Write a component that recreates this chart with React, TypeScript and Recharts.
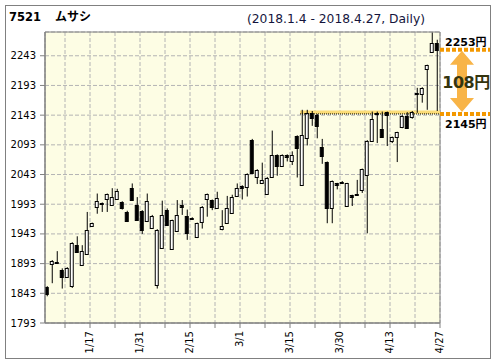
import React from 'react'
import { ComposedChart, Bar, XAxis, YAxis, CartesianGrid, ReferenceArea, ReferenceLine } from 'recharts'

const dates = [
  '1/4', '1/5', '1/9', '1/10', '1/11', '1/12', '1/15', '1/16', '1/17', '1/18',
  '1/19', '1/22', '1/23', '1/24', '1/25', '1/26', '1/29', '1/30', '1/31', '2/1',
  '2/2', '2/5', '2/6', '2/7', '2/8', '2/9', '2/13', '2/14', '2/15', '2/16',
  '2/19', '2/20', '2/21', '2/22', '2/23', '2/26', '2/27', '2/28', '3/1', '3/2',
  '3/5', '3/6', '3/7', '3/8', '3/9', '3/12', '3/13', '3/14', '3/15', '3/16',
  '3/19', '3/20', '3/22', '3/23', '3/26', '3/27', '3/28', '3/29', '3/30', '4/2',
  '4/3', '4/4', '4/5', '4/6', '4/9', '4/10', '4/11', '4/12', '4/13', '4/16',
  '4/17', '4/18', '4/19', '4/20', '4/23', '4/24', '4/25', '4/26', '4/27',
]

const opens = [
  1853, 1893, 1896, 1883, 1870, 1855, 1924, 1890, 1910, 1957,
  1989, 1995, 2002, 1992, 2002, 1997, 1980, 2020, 1991, 1981,
  1964, 1953, 1857, 1920, 1984, 1917, 1948, 1992, 1973, 1970,
  1937, 1963, 2001, 2000, 1986, 1952, 1962, 1979, 2007, 2024,
  2022, 2101, 2039, 2028, 2011, 2039, 2076, 2058, 2076, 2066,
  2108, 2025, 2104, 2146, 2144, 2089, 2064, 1986, 2028, 2031,
  1990, 2008, 2011, 2017, 2042, 2100, 2147, 2119, 2148, 2100,
  2107, 2123, 2142, 2140, 2181, 2179, 2220, 2250, 2265,
]

const highs = [
  1855, 1899, 1914, 1885, 1887, 1929, 1939, 1924, 1980, 1962,
  2011, 1996, 2011, 2020, 2019, 1998, 1982, 2028, 2005, 1983,
  2011, 1975, 1951, 1999, 1986, 1967, 2000, 2000, 1984, 1971,
  1962, 1990, 2011, 2001, 2014, 1983, 2007, 2009, 2028, 2025,
  2045, 2103, 2052, 2063, 2039, 2117, 2077, 2077, 2077, 2082,
  2109, 2152, 2152, 2150, 2145, 2103, 2065, 2033, 2029, 2032,
  2029, 2009, 2034, 2053, 2101, 2149, 2149, 2149, 2149, 2107,
  2115, 2143, 2148, 2150, 2189, 2190, 2228, 2282, 2270,
]

const lows = [
  1838, 1860, 1893, 1851, 1869, 1852, 1912, 1889, 1909, 1956,
  1977, 1980, 1980, 1991, 2001, 1984, 1963, 1999, 1966, 1943,
  1963, 1952, 1851, 1919, 1957, 1916, 1947, 1975, 1933, 1968,
  1936, 1952, 1972, 1983, 1985, 1949, 1961, 1978, 2006, 2001,
  2006, 2044, 2027, 2027, 2010, 2038, 2041, 2057, 2065, 2059,
  2038, 2024, 2092, 2125, 2104, 2061, 1961, 1961, 2018, 2027,
  1989, 1990, 2009, 2012, 1944, 2099, 2096, 2106, 2091, 2096,
  2064, 2121, 2120, 2137, 2147, 2164, 2152, 2249, 2150,
]

const closes = [
  1841, 1897, 1894, 1870, 1886, 1928, 1913, 1915, 1950, 1961,
  1999, 1993, 2010, 2005, 2015, 1987, 1964, 2000, 1967, 1949,
  1999, 1974, 1950, 1975, 1958, 1966, 1975, 1989, 1945, 1969,
  1961, 1989, 2010, 1989, 2003, 1957, 1986, 2005, 2020, 2021,
  2044, 2045, 2051, 2034, 2038, 2076, 2058, 2076, 2072, 2076,
  2088, 2110, 2146, 2138, 2124, 2075, 1986, 2032, 2025, 2028,
  2028, 2005, 2010, 2052, 2100, 2136, 2145, 2107, 2143, 2106,
  2114, 2142, 2121, 2148, 2178, 2189, 2227, 2265, 2253,
]

const yTicks = [1793, 1843, 1893, 1943, 1993, 2043, 2093, 2143, 2193, 2243]
const resistance = 2145
const lastClose = closes[closes.length - 1]
const breakoutFrom = dates.indexOf('3/20')

const data = dates.map((date, i) => ({
  idx: i,
  date,
  open: opens[i],
  high: highs[i],
  low: lows[i],
  close: closes[i],
}))

// grid/tick every 5 days on the day boundary, label every 10th
const xTicks = dates.map((_, i) => i).filter((i) => i % 5 === 3).map((i) => i + 0.5)

const FONT = '"DejaVu Sans", Verdana, sans-serif'
const JP = '"DejaVu Sans", "Noto Sans CJK JP", sans-serif'

function Candle(props: any) {
  const { x, y, width, height, payload } = props
  if (x == null || y == null || !height) return null
  const { open, close, high, low } = payload
  const cx = x + width / 2
  const k = height / (high - low)
  const py = (v: number) => y + (high - v) * k
  const top = Math.round(py(Math.max(open, close))) + 0.5
  let bottom = Math.round(py(Math.min(open, close))) + 0.5
  if (bottom - top < 1) bottom = top + 1
  const up = close > open
  return (
    <g>
      <line x1={cx} x2={cx} y1={y} y2={y + height} stroke="#000" strokeWidth={1} />
      <rect x={cx - 2} y={top} width={3} height={bottom - top} fill={up ? '#fff' : '#000'} stroke="#000" strokeWidth={1} />
    </g>
  )
}

function DateTick({ x, y, payload }: any) {
  const i = payload.value - 0.5
  if (i % 10 !== 8) return null
  return (
    <text
      transform={`translate(${x - 1},${y + 1}) rotate(-90)`}
      textAnchor="end"
      dominantBaseline="central"
      fontSize={10}
      fontFamily={FONT}
      fill="#000"
    >
      {dates[i]}
    </text>
  )
}

function SpreadLabel({ viewBox }: any) {
  if (!viewBox) return null
  const { x, y, width, height } = viewBox
  const right = x + width
  const top = y
  const bot = y + height
  const ax = right + 22
  const hw = 12
  const sw = 5
  const hh = 14
  const arrow = [
    `M${ax},${top + 1}`,
    `L${ax + hw},${top + 1 + hh}`,
    `L${ax + sw},${top + 1 + hh}`,
    `L${ax + sw},${bot - 2 - hh}`,
    `L${ax + hw},${bot - 2 - hh}`,
    `L${ax},${bot - 2}`,
    `L${ax - hw},${bot - 2 - hh}`,
    `L${ax - sw},${bot - 2 - hh}`,
    `L${ax - sw},${top + 1 + hh}`,
    `L${ax - hw},${top + 1 + hh}`,
    'Z',
  ].join(' ')
  return (
    <g>
      <line x1={right} x2={right + 50} y1={top} y2={top} stroke="#f39800" strokeWidth={4} strokeDasharray="4 2" />
      <line x1={right} x2={right + 50} y1={bot} y2={bot} stroke="#f39800" strokeWidth={4} strokeDasharray="4 2" />
      <path d={arrow} fill="#f8b447" />
      <text x={right + 5} y={top - 3.5} fontSize={11} fontWeight="bold" fontFamily={JP} fill="#000">
        {`${lastClose}円`}
      </text>
      <text x={right + 5} y={bot + 14} fontSize={11} fontWeight="bold" fontFamily={JP} fill="#000">
        {`${resistance}円`}
      </text>
      <text
        x={right + 26}
        y={(top + bot) / 2 + 6.5}
        textAnchor="middle"
        fontSize={16}
        letterSpacing={-0.5}
        fontWeight="bold"
        fontFamily={JP}
        fill="#34340e"
      >
        {`${lastClose - resistance}円`}
      </text>
    </g>
  )
}

export default function App() {
  return (
    <div style={{ position: 'absolute', left: 0, top: 0, width: 496, height: 364, background: '#fff' }}>
      <ComposedChart
        width={496}
        height={364}
        data={data}
        margin={{ top: 32, right: 56, bottom: 0, left: 0 }}
      >
        <CartesianGrid
          stroke="#b4b4b4"
          strokeDasharray="4 2"
          fill="#fdfde4"
          fillOpacity={1}
        />
        <XAxis
          dataKey="idx"
          type="number"
          domain={[-0.5, dates.length - 0.5]}
          ticks={xTicks}
          interval={0}
          height={41}
          tickSize={5}
          tickMargin={2}
          stroke="#808080"
          tickLine={{ stroke: '#808080' }}
          tick={<DateTick />}
          allowDataOverflow
        />
        <YAxis
          domain={[1793, 2283]}
          ticks={yTicks}
          interval={0}
          width={45}
          tickSize={5}
          tickMargin={4}
          stroke="#808080"
          tickLine={{ stroke: '#808080' }}
          tick={{ fill: '#000', fontSize: 10, fontFamily: FONT }}
          allowDataOverflow
        />
        <ReferenceArea y1={1793} y2={2283} fill="none" stroke="#808080" strokeWidth={1} ifOverflow="visible" />
        <ReferenceArea
          x1={breakoutFrom - 0.5}
          x2={dates.length - 0.5}
          y1={resistance}
          y2={resistance + 6}
          fill="#fbdc78"
          fillOpacity={1}
          stroke="none"
        />
        <ReferenceLine
          segment={[
            { x: breakoutFrom - 0.5, y: resistance },
            { x: dates.length - 0.5, y: resistance },
          ]}
          stroke="#000"
          strokeDasharray="1 1"
        />
        <Bar
          dataKey={(d: any) => [d.low, d.high]}
          barSize={5}
          shape={<Candle />}
          isAnimationActive={false}
        />
        <ReferenceArea
          y1={resistance}
          y2={lastClose}
          fill="none"
          stroke="none"
          ifOverflow="visible"
          label={<SpreadLabel />}
        />
      </ComposedChart>
      <svg
        width={496}
        height={364}
        style={{ position: 'absolute', left: 0, top: 0, pointerEvents: 'none' }}
      >
        <rect x={5.5} y={5.5} width={485} height={353} fill="none" stroke="#808080" />
        <text x={9} y={21} fontSize={11.5} fontWeight="bold" fontFamily={FONT} fill="#000">7521</text>
        <text x={55} y={21} fontSize={12} fontWeight="bold" fontFamily='"Noto Sans CJK JP", sans-serif' fill="#000">ムサシ</text>
        <text
          x={247}
          y={22.5}
          fontSize={12.8}
          fontFamily={FONT}
          fill="#14143c"
          textLength={178}
          lengthAdjust="spacingAndGlyphs"
        >
          (2018.1.4 - 2018.4.27, Daily)
        </text>
      </svg>
    </div>
  )
}
